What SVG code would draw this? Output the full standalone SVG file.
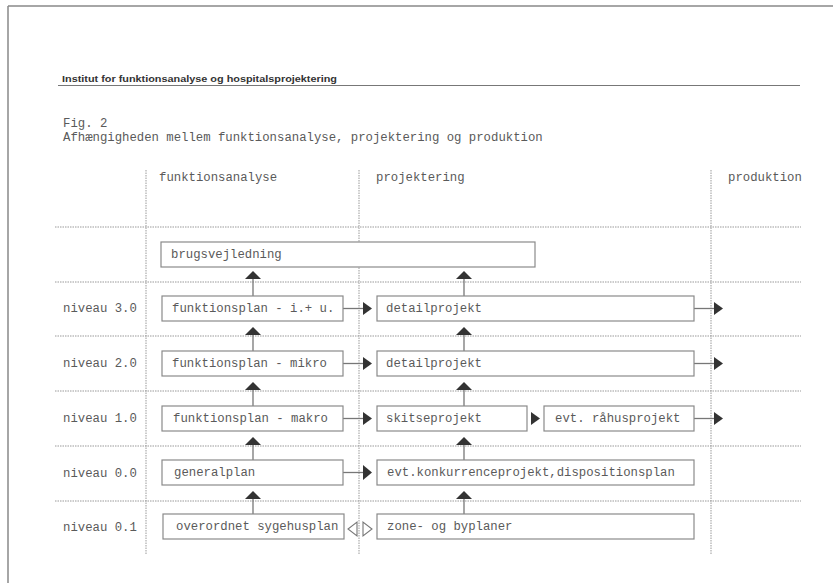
<svg xmlns="http://www.w3.org/2000/svg" width="833" height="583" viewBox="0 0 833 583">
<style>
.mono{font-family:"Liberation Mono","DejaVu Sans Mono",monospace;font-size:12.3px;fill:#5a5a5a}
.hdr{font-family:"Liberation Sans",Arial,sans-serif;font-size:8.6px;font-weight:bold;fill:#333}
.box{fill:#fff;stroke:#8a8a8a;stroke-width:1.2}
.dot{stroke:#999;stroke-width:1;stroke-dasharray:1.5 1;fill:none}
.ln{stroke:#777;stroke-width:1.3;fill:none}
.tri{fill:#333}
.hol{fill:#fff;stroke:#777;stroke-width:1.1}
</style>
<rect width="833" height="583" fill="#fff"/>
<g id="frame">
<line x1="8" y1="6" x2="833" y2="6" stroke="#888" stroke-width="1.5"/>
<line x1="8" y1="6" x2="8" y2="583" stroke="#888" stroke-width="1.5"/>
</g>
<g id="header">
<text class="hdr" x="62" y="82" textLength="275" lengthAdjust="spacingAndGlyphs">Institut for funktionsanalyse og hospitalsprojektering</text>
<line x1="58" y1="85.5" x2="800" y2="85.5" stroke="#777" stroke-width="1.2"/>
<text class="mono" x="63" y="127">Fig. 2</text>
<text class="mono" x="63" y="141">Afhængigheden mellem funktionsanalyse, projektering og produktion</text>
</g>
<g id="grid">
<line class="dot" x1="146" y1="170" x2="146" y2="555"/>
<line class="dot" x1="359" y1="170" x2="359" y2="555"/>
<line class="dot" x1="711" y1="170" x2="711" y2="555"/>
<line class="dot" x1="55" y1="227" x2="801" y2="227"/>
<line class="dot" x1="55" y1="282" x2="801" y2="282"/>
<line class="dot" x1="55" y1="336" x2="801" y2="336"/>
<line class="dot" x1="55" y1="391" x2="801" y2="391"/>
<line class="dot" x1="55" y1="446" x2="801" y2="446"/>
<line class="dot" x1="55" y1="501" x2="801" y2="501"/>
<text class="mono" x="159" y="181">funktionsanalyse</text>
<text class="mono" x="376" y="181">projektering</text>
<text class="mono" x="728" y="181">produktion</text>
<text class="mono" x="63" y="312">niveau 3.0</text>
<text class="mono" x="63" y="367">niveau 2.0</text>
<text class="mono" x="63" y="422">niveau 1.0</text>
<text class="mono" x="63" y="477">niveau 0.0</text>
<text class="mono" x="63" y="531">niveau 0.1</text>
</g>
<g id="connectors">
<line class="ln" x1="253" y1="279" x2="253" y2="296"/>
<polygon class="tri" points="245,279 261,279 253,271"/>
<line class="ln" x1="253" y1="334" x2="253" y2="351"/>
<polygon class="tri" points="245,335 261,335 253,327"/>
<line class="ln" x1="253" y1="389" x2="253" y2="406"/>
<polygon class="tri" points="245,390 261,390 253,382"/>
<line class="ln" x1="253" y1="444" x2="253" y2="460"/>
<polygon class="tri" points="245,445 261,445 253,437"/>
<line class="ln" x1="253" y1="498" x2="253" y2="514"/>
<polygon class="tri" points="245,499 261,499 253,491"/>
<line class="ln" x1="464" y1="279" x2="464" y2="296"/>
<polygon class="tri" points="456,279 472,279 464,271"/>
<line class="ln" x1="464" y1="334" x2="464" y2="351"/>
<polygon class="tri" points="456,335 472,335 464,327"/>
<line class="ln" x1="464" y1="389" x2="464" y2="406"/>
<polygon class="tri" points="456,390 472,390 464,382"/>
<line class="ln" x1="464" y1="444" x2="464" y2="460"/>
<polygon class="tri" points="456,445 472,445 464,437"/>
<line class="ln" x1="464" y1="498" x2="464" y2="514"/>
<polygon class="tri" points="456,499 472,499 464,491"/>
<line class="ln" x1="343" y1="308.5" x2="363" y2="308.5"/>
<polygon class="tri" points="363,302 363,315 372,308.5"/>
<line class="ln" x1="343" y1="363.5" x2="363" y2="363.5"/>
<polygon class="tri" points="363,357 363,370 372,363.5"/>
<line class="ln" x1="343" y1="418.5" x2="363" y2="418.5"/>
<polygon class="tri" points="363,412 363,425 372,418.5"/>
<line class="ln" x1="343" y1="472.5" x2="363" y2="472.5"/>
<polygon class="tri" points="363,465 363,480 372,472.5"/>
<polygon class="tri" points="531,412 531,425 540,418.5"/>
<line class="ln" x1="694" y1="308.5" x2="714" y2="308.5"/>
<polygon class="tri" points="714,302 714,315 723,308.5"/>
<line class="ln" x1="694" y1="363.5" x2="714" y2="363.5"/>
<polygon class="tri" points="714,357 714,370 723,363.5"/>
<line class="ln" x1="694" y1="418.5" x2="714" y2="418.5"/>
<polygon class="tri" points="714,412 714,425 723,418.5"/>
<polygon class="hol" points="357,522 357,536 348,529"/>
<polygon class="hol" points="363,522 363,536 372,529"/>
</g>
<g id="n-brugsvejledning"><rect class="box" x="161" y="242" width="374" height="25"/><text class="mono" x="171" y="258">brugsvejledning</text></g>
<g id="n-fp-iu"><rect class="box" x="162" y="296" width="181" height="25"/><text class="mono" x="172" y="312">funktionsplan - i.+ u.</text></g>
<g id="n-detail-3"><rect class="box" x="377" y="296" width="317" height="25"/><text class="mono" x="386" y="312">detailprojekt</text></g>
<g id="n-fp-mikro"><rect class="box" x="162" y="351" width="181" height="25"/><text class="mono" x="172" y="367">funktionsplan - mikro</text></g>
<g id="n-detail-2"><rect class="box" x="377" y="351" width="317" height="25"/><text class="mono" x="386" y="367">detailprojekt</text></g>
<g id="n-fp-makro"><rect class="box" x="162" y="406" width="181" height="25"/><text class="mono" x="173" y="422">funktionsplan - makro</text></g>
<g id="n-skitse"><rect class="box" x="377" y="406" width="150" height="25"/><text class="mono" x="386" y="422">skitseprojekt</text></g>
<g id="n-raahus"><rect class="box" x="544" y="406" width="150" height="25"/><text class="mono" x="555" y="422">evt. råhusprojekt</text></g>
<g id="n-generalplan"><rect class="box" x="162" y="460" width="181" height="25"/><text class="mono" x="174" y="476">generalplan</text></g>
<g id="n-konkurrence"><rect class="box" x="377" y="460" width="317" height="25"/><text class="mono" x="387" y="476">evt.konkurrenceprojekt,dispositionsplan</text></g>
<g id="n-sygehusplan"><rect class="box" x="163" y="514" width="181" height="25"/><text class="mono" x="176" y="530">overordnet sygehusplan</text></g>
<g id="n-zone"><rect class="box" x="377" y="514" width="317" height="25"/><text class="mono" x="387" y="530">zone- og byplaner</text></g>
</svg>
